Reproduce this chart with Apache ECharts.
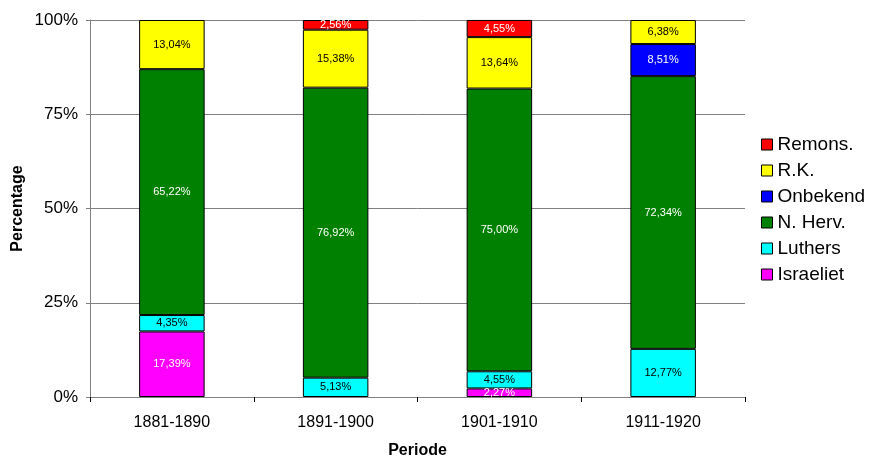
<!DOCTYPE html>
<html>
<head>
<meta charset="utf-8">
<script src="https://cdn.jsdelivr.net/npm/echarts@6/dist/echarts.min.js"></script>
<style>
  html, body { margin: 0; padding: 0; background: #fff; }
  #chart { width: 870px; height: 457px; }
</style>
</head>
<body>
<div id="chart"></div>
<script>
// periodes en percentages per gezindte
const categories = ["1881-1890", "1891-1900", "1901-1910", "1911-1920"];
const israeliet = [17.39, 0, 2.27, 0];
const luthers = [4.35, 5.13, 4.55, 12.77];
const nHerv = [65.22, 76.92, 75.0, 72.34];
const onbekend = [0, 0, 0, 8.51];
const rk = [13.04, 15.38, 13.64, 6.38];
const remons = [0, 2.56, 4.55, 0];
const yTicks = [0, 25, 50, 75, 100];

const chart = echarts.init(document.getElementById("chart"));
const font = "Arial, Liberation Sans";

// series van onder naar boven
const defs = [
  { name: "Israeliet", data: israeliet, color: "#ff00ff", text: "#fff" },
  { name: "Luthers", data: luthers, color: "#00ffff", text: "#000" },
  { name: "N. Herv.", data: nHerv, color: "#008000", text: "#fff" },
  { name: "Onbekend", data: onbekend, color: "#0000ff", text: "#fff" },
  { name: "R.K.", data: rk, color: "#ffff00", text: "#000" },
  { name: "Remons.", data: remons, color: "#ff0000", text: "#fff" },
];

const series = defs.map((d) => ({
  name: d.name,
  type: "bar",
  stack: "total",
  barWidth: "40%",
  data: d.data.map((v) => (v ? v : null)),
  itemStyle: { color: d.color, borderColor: "#000", borderWidth: 1 },
  label: {
    show: true,
    position: "inside",
    color: d.text,
    fontFamily: font,
    fontSize: 11,
    formatter: (p) => p.value.toFixed(2).replace(".", ",") + "%",
  },
}));

const option = {
  animation: false,
  grid: { left: 90, right: 125, top: 20, bottom: 60, outerBoundsMode: "none", containLabel: false },
  legend: {
    orient: "vertical",
    left: 756,
    top: 130,
    itemWidth: 11,
    itemHeight: 11,
    itemGap: 7,
    icon: "rect",
    data: defs.map((d) => d.name).reverse(),
    textStyle: { fontFamily: font, fontSize: 19, color: "#000" },
    itemStyle: { borderColor: "#000", borderWidth: 1 },
  },
  xAxis: {
    type: "category",
    data: categories,
    name: "Periode",
    nameLocation: "middle",
    nameGap: 46,
    nameMoveOverlap: false,
    nameTextStyle: { fontFamily: font, fontSize: 16, fontWeight: "bold", color: "#000" },
    axisLine: { lineStyle: { color: "#808080" } },
    axisTick: { show: true, length: 5, lineStyle: { color: "#000" } },
    axisLabel: { fontFamily: font, fontSize: 16, color: "#000", margin: 18 },
  },
  yAxis: {
    type: "value",
    min: yTicks[0],
    max: yTicks[yTicks.length - 1],
    interval: 25,
    name: "Percentage",
    nameLocation: "middle",
    nameGap: 64,
    nameMoveOverlap: false,
    nameTextStyle: { fontFamily: font, fontSize: 16, fontWeight: "bold", color: "#000" },
    axisLine: { show: true, lineStyle: { color: "#808080" } },
    axisTick: { show: true, length: 4, lineStyle: { color: "#808080" } },
    splitLine: { lineStyle: { color: "#808080" } },
    axisLabel: {
      fontFamily: font,
      fontSize: 17,
      color: "#000",
      margin: 12,
      formatter: (v) => v + "%",
    },
  },
  series: series,
};

chart.setOption(option);
</script>
</body>
</html>
